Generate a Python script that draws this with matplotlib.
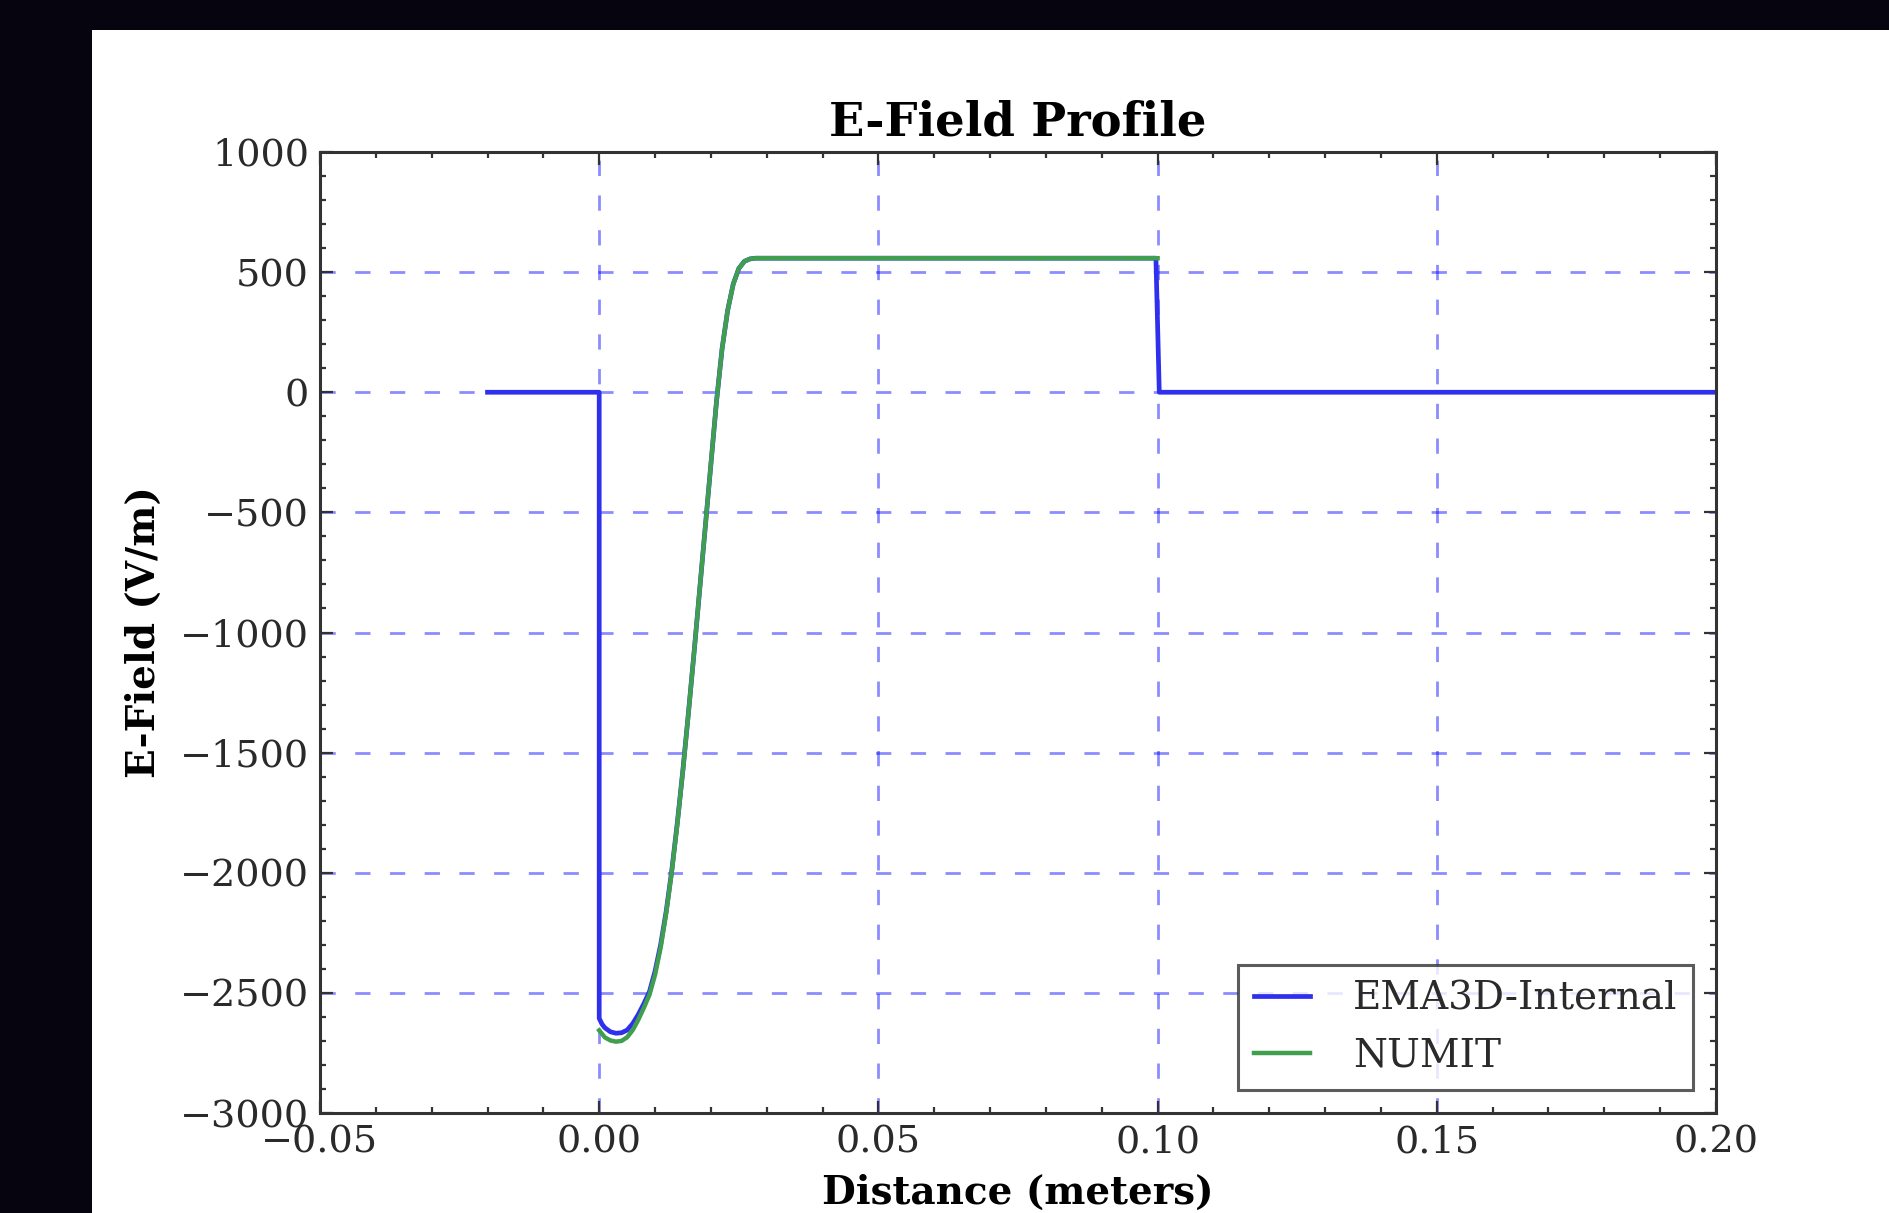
import numpy as np
import matplotlib
matplotlib.use("Agg")
import matplotlib.pyplot as plt
from matplotlib.patches import Rectangle
from matplotlib.ticker import AutoMinorLocator

# EMA3D-Internal curve
ema_x = [-0.02, 0.0, 0.0, 0.0005, 0.001, 0.002, 0.003, 0.004, 0.005, 0.006,
         0.007, 0.008, 0.009, 0.010, 0.011, 0.012, 0.013, 0.014, 0.015, 0.016,
         0.017, 0.018, 0.019, 0.020, 0.021, 0.022, 0.023, 0.024, 0.025, 0.026,
         0.027, 0.028, 0.030, 0.0997, 0.1003, 0.2]
ema_y = [0, 0, -2606, -2630, -2645, -2662, -2668, -2666, -2655, -2628,
         -2590, -2545, -2495, -2410, -2300, -2160, -1990, -1790, -1570, -1330,
         -1080, -820, -560, -300, -40, 180, 340, 450, 515, 545,
         555, 558, 558, 558, 0, 0]

# NUMIT curve
numit_x = [0.0, 0.001, 0.002, 0.003, 0.004, 0.005, 0.006, 0.007, 0.008, 0.009,
           0.010, 0.011, 0.012, 0.013, 0.014, 0.015, 0.016, 0.017, 0.018, 0.019,
           0.020, 0.021, 0.022, 0.023, 0.024, 0.025, 0.026, 0.027, 0.028, 0.030,
           0.1]
numit_y = [-2656, -2685, -2698, -2703, -2700, -2685, -2655, -2612, -2562, -2508,
           -2425, -2312, -2168, -1995, -1795, -1572, -1332, -1080, -820, -560,
           -300, -40, 180, 340, 450, 515, 545, 555, 558, 558,
           558]

x_ticks = [-0.05, 0.00, 0.05, 0.10, 0.15, 0.20]
y_ticks = [-3000, -2500, -2000, -1500, -1000, -500, 0, 500, 1000]

plt.rcParams["font.family"] = "DejaVu Serif"
plt.rcParams["mathtext.fontset"] = "dejavuserif"

W, H = 1890, 1213
fig = plt.figure(figsize=(W / 100, H / 100), dpi=100)
fig.patch.set_facecolor("#05040f")
# white area of the photographed screen
fig.patches.append(Rectangle((92 / W, 0), 1, 1 - 30 / H, transform=fig.transFigure,
                             facecolor="white", edgecolor="none", zorder=-5))

ax = fig.add_axes([320 / W, 1 - 1113 / H, 1396 / W, 961 / H])
ax.set_zorder(2)

ax.plot(ema_x, ema_y, color="#2f2fee", lw=3.4, label="EMA3D-Internal")
ax.plot(numit_x, numit_y, color="#3f9f4f", lw=3.2, label="NUMIT")

ax.set_xlim(-0.05, 0.20)
ax.set_ylim(-3000, 1000)
ax.set_xticks(x_ticks)
ax.set_yticks(y_ticks)
ax.set_xticklabels([("%.2f" % v).replace("-", "\u2212") for v in x_ticks])
ax.xaxis.set_minor_locator(AutoMinorLocator(5))
ax.yaxis.set_minor_locator(AutoMinorLocator(5))
ax.tick_params(which="both", direction="in", top=True, right=True,
               labelsize=27.5, labelcolor="#2a2a2a", color="#333333", width=1.6)
ax.tick_params(which="major", length=9, pad=8)
ax.tick_params(which="minor", length=4.5)
for s in ax.spines.values():
    s.set_linewidth(2.2)
    s.set_color("#333333")

ax.grid(True, color="b", alpha=0.45, linewidth=2, linestyle=(0, (5.5, 7)))
ax.set_axisbelow(True)

ax.set_title("E-Field Profile", fontsize=33.5, fontweight="bold", pad=12)
ax.set_xlabel("Distance (meters)", fontsize=28, fontweight="bold", labelpad=10)
ax.set_ylabel("E-Field (V/m)", fontsize=28, fontweight="bold", labelpad=12)

leg = ax.legend(loc="lower right", fontsize=28, handlelength=1.45, borderaxespad=0.6,
                fancybox=False, labelspacing=0.5, handletextpad=1.1)
leg.get_frame().set_edgecolor("#333333")
leg.get_frame().set_linewidth(2.2)
for t in leg.get_texts():
    t.set_color("#2a2a2a")

fig.savefig("out.png", dpi=100, facecolor=fig.get_facecolor())
